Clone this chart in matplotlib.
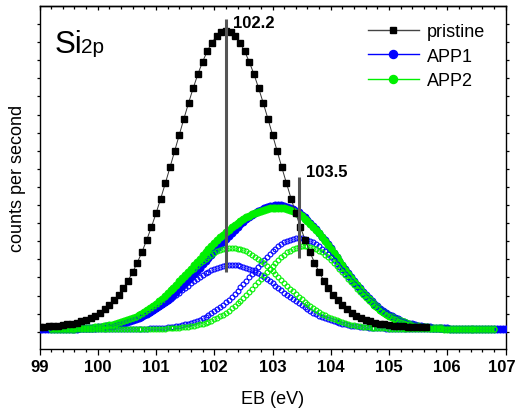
import numpy as np
import matplotlib
matplotlib.use("Agg")
import matplotlib.pyplot as plt
import matplotlib.transforms as mtransforms
from matplotlib.ticker import MultipleLocator, FixedLocator
from matplotlib.lines import Line2D

plt.rcParams['font.family'] = ['Liberation Sans', 'DejaVu Sans']

# ---------------- data ----------------
# energy grids (eV)
x_pristine = np.linspace(99.0, 105.64, 84)
x_app1 = np.linspace(99.0, 107.0, 161)
x_app2 = np.linspace(99.2, 106.8, 153)

pristine = [
    2.2, 2.4, 2.7, 3.0, 3.4, 3.9, 4.6, 5.4, 6.4, 7.7,
    9.3, 11.2, 13.5, 16.4, 19.8, 23.9, 28.7, 34.4, 40.9, 48.4,
    57.0, 66.5, 77.2, 89.0, 101.8, 115.6, 130.3, 145.7, 161.6, 177.9,
    194.3, 210.5, 226.2, 241.2, 255.0, 267.3, 277.9, 286.5, 292.8, 296.7,
    298.0,
    296.7, 292.8, 286.5, 277.9, 267.3, 255.0, 241.2, 226.2, 210.5, 194.3,
    177.9, 161.6, 145.7, 130.3, 115.6, 101.8, 89.0, 77.2, 66.5, 57.0,
    48.4, 40.9, 34.4, 28.7, 23.9, 19.8, 16.4, 13.5, 11.2, 9.3,
    7.7, 6.4, 5.4, 4.6, 3.9, 3.4, 3.0, 2.7, 2.4, 2.2,
    2.0, 1.9, 1.7]

app1_sum = [
    0.0, 0.0, 0.0, 0.0, 0.1, 0.1, 0.1, 0.2, 0.2, 0.2,
    0.3, 0.3, 0.4, 0.5, 0.6, 0.7, 0.8, 1.0, 1.2, 1.4,
    1.6, 1.9, 2.2, 2.6, 3.0, 3.5, 4.0, 4.7, 5.4, 6.1,
    6.9, 7.8, 8.9, 9.9, 11.2, 12.4, 13.9, 15.4, 17.1, 18.8,
    20.7, 22.7, 24.8, 27.1, 29.4, 31.9, 34.5, 37.2, 39.9, 42.8,
    45.8, 48.8, 51.9, 55.0, 58.2, 61.4, 64.7, 67.9, 71.2, 74.5,
    77.7, 81.0, 84.2, 87.3, 90.5, 93.4, 96.4, 99.3, 102.1, 104.7,
    107.3, 109.6, 111.9, 114.0, 115.9, 117.7, 119.2, 120.6, 121.8, 122.7,
    123.3, 123.7, 123.8, 123.6, 123.2, 122.5, 121.4, 120.1, 118.5, 116.6,
    114.4, 112.0, 109.3, 106.3, 103.2, 99.7, 96.2, 92.4, 88.6, 84.6,
    80.6, 76.4, 72.2, 68.1, 63.9, 59.8, 55.8, 51.8, 48.0, 44.3,
    40.7, 37.3, 34.0, 30.9, 28.1, 25.3, 22.7, 20.4, 18.2, 16.2,
    14.3, 12.6, 11.2, 9.7, 8.5, 7.4, 6.4, 5.5, 4.8, 4.1,
    3.5, 2.9, 2.5, 2.1, 1.7, 1.5, 1.2, 1.0, 0.8, 0.7,
    0.6, 0.5, 0.4, 0.3, 0.3, 0.2, 0.2, 0.1, 0.1, 0.1,
    0.1, 0.1, 0.0, 0.0, 0.0, 0.0, 0.0, 0.0, 0.0, 0.0,
    0.0]

app1_c1 = [
    0.0, 0.0, 0.0, 0.0, 0.1, 0.1, 0.1, 0.2, 0.2, 0.2,
    0.3, 0.3, 0.4, 0.5, 0.6, 0.7, 0.8, 1.0, 1.2, 1.4,
    1.6, 1.9, 2.2, 2.6, 3.0, 3.5, 4.0, 4.6, 5.3, 6.0,
    6.8, 7.7, 8.7, 9.7, 10.9, 12.1, 13.5, 14.9, 16.5, 18.1,
    19.9, 21.7, 23.6, 25.6, 27.7, 29.8, 32.0, 34.3, 36.5, 38.8,
    41.1, 43.4, 45.6, 47.8, 49.9, 51.9, 53.8, 55.6, 57.3, 58.8,
    60.1, 61.3, 62.3, 63.0, 63.6, 63.9, 64.0, 63.9, 63.6, 63.0,
    62.3, 61.3, 60.1, 58.8, 57.3, 55.6, 53.8, 51.9, 49.9, 47.8,
    45.6, 43.4, 41.1, 38.8, 36.5, 34.3, 32.0, 29.8, 27.7, 25.6,
    23.6, 21.7, 19.9, 18.1, 16.5, 14.9, 13.5, 12.1, 10.9, 9.7,
    8.7, 7.7, 6.8, 6.0, 5.3, 4.6, 4.0, 3.5, 3.0, 2.6,
    2.2, 1.9, 1.6, 1.4, 1.2, 1.0, 0.8, 0.7, 0.6, 0.5,
    0.4, 0.3, 0.3, 0.2, 0.2, 0.2, 0.1, 0.1, 0.1, 0.1,
    0.1, 0.0, 0.0, 0.0, 0.0, 0.0, 0.0, 0.0, 0.0, 0.0,
    0.0, 0.0, 0.0, 0.0, 0.0, 0.0, 0.0, 0.0, 0.0, 0.0,
    0.0, 0.0, 0.0, 0.0, 0.0, 0.0, 0.0, 0.0, 0.0, 0.0,
    0.0]

app1_c2 = [
    0.0, 0.0, 0.0, 0.0, 0.0, 0.0, 0.0, 0.0, 0.0, 0.0,
    0.0, 0.0, 0.0, 0.0, 0.0, 0.0, 0.0, 0.0, 0.0, 0.0,
    0.0, 0.0, 0.0, 0.0, 0.0, 0.0, 0.0, 0.1, 0.1, 0.1,
    0.1, 0.1, 0.2, 0.2, 0.3, 0.3, 0.4, 0.5, 0.6, 0.7,
    0.8, 1.0, 1.2, 1.5, 1.7, 2.1, 2.5, 2.9, 3.4, 4.0,
    4.7, 5.4, 6.3, 7.2, 8.3, 9.5, 10.9, 12.3, 13.9, 15.7,
    17.6, 19.7, 21.9, 24.3, 26.9, 29.5, 32.4, 35.4, 38.5, 41.7,
    45.0, 48.3, 51.8, 55.2, 58.6, 62.1, 65.4, 68.7, 71.9, 74.9,
    77.7, 80.3, 82.7, 84.8, 86.7, 88.2, 89.4, 90.3, 90.8, 91.0,
    90.8, 90.3, 89.4, 88.2, 86.7, 84.8, 82.7, 80.3, 77.7, 74.9,
    71.9, 68.7, 65.4, 62.1, 58.6, 55.2, 51.8, 48.3, 45.0, 41.7,
    38.5, 35.4, 32.4, 29.5, 26.9, 24.3, 21.9, 19.7, 17.6, 15.7,
    13.9, 12.3, 10.9, 9.5, 8.3, 7.2, 6.3, 5.4, 4.7, 4.0,
    3.4, 2.9, 2.5, 2.1, 1.7, 1.5, 1.2, 1.0, 0.8, 0.7,
    0.6, 0.5, 0.4, 0.3, 0.3, 0.2, 0.2, 0.1, 0.1, 0.1,
    0.1, 0.1, 0.0, 0.0, 0.0, 0.0, 0.0, 0.0, 0.0, 0.0,
    0.0]

app2_sum = [
    0.1, 0.1, 0.2, 0.2, 0.2, 0.3, 0.4, 0.4, 0.5, 0.6,
    0.8, 0.9, 1.1, 1.3, 1.5, 1.8, 2.1, 2.4, 2.8, 3.3,
    3.8, 4.4, 5.1, 5.8, 6.7, 7.6, 8.6, 9.7, 11.0, 12.3,
    13.9, 15.5, 17.2, 19.0, 21.1, 23.1, 25.5, 27.8, 30.3, 32.9,
    35.7, 38.6, 41.4, 44.5, 47.6, 50.7, 54.0, 57.3, 60.5, 63.9,
    67.1, 70.4, 73.6, 76.8, 79.9, 82.9, 85.9, 88.8, 91.6, 94.3,
    96.8, 99.4, 101.7, 104.0, 106.0, 108.1, 110.0, 111.7, 113.3, 114.8,
    116.2, 117.4, 118.4, 119.4, 120.1, 120.8, 121.1, 121.4, 121.3, 121.1,
    120.6, 120.0, 119.0, 117.9, 116.5, 114.7, 112.7, 110.5, 108.0, 105.2,
    102.3, 99.0, 95.6, 92.0, 88.2, 84.3, 80.3, 76.2, 72.0, 67.9,
    63.7, 59.5, 55.4, 51.4, 47.5, 43.7, 40.0, 36.5, 33.3, 30.1,
    27.1, 24.4, 21.8, 19.4, 17.2, 15.1, 13.3, 11.6, 10.2, 8.8,
    7.6, 6.6, 5.7, 4.8, 4.1, 3.5, 2.9, 2.5, 2.0, 1.6,
    1.4, 1.1, 0.9, 0.8, 0.6, 0.5, 0.4, 0.3, 0.3, 0.2,
    0.2, 0.1, 0.1, 0.1, 0.1, 0.0, 0.0, 0.0, 0.0, 0.0,
    0.0, 0.0, 0.0]

app2_c1 = [
    0.1, 0.1, 0.2, 0.2, 0.2, 0.3, 0.4, 0.4, 0.5, 0.6,
    0.8, 0.9, 1.1, 1.3, 1.5, 1.8, 2.1, 2.4, 2.8, 3.3,
    3.8, 4.4, 5.1, 5.8, 6.7, 7.6, 8.6, 9.7, 11.0, 12.3,
    13.8, 15.4, 17.1, 18.9, 20.9, 22.9, 25.2, 27.5, 29.9, 32.4,
    35.1, 37.8, 40.5, 43.4, 46.2, 49.1, 52.0, 54.9, 57.7, 60.5,
    63.1, 65.7, 68.1, 70.4, 72.5, 74.4, 76.1, 77.6, 78.8, 79.8,
    80.4, 80.9, 81.0, 80.9, 80.4, 79.8, 78.8, 77.6, 76.1, 74.4,
    72.5, 70.4, 68.1, 65.7, 63.1, 60.5, 57.7, 54.9, 52.0, 49.1,
    46.2, 43.4, 40.5, 37.8, 35.1, 32.4, 29.9, 27.5, 25.2, 22.9,
    20.9, 18.9, 17.1, 15.4, 13.8, 12.3, 11.0, 9.7, 8.6, 7.6,
    6.7, 5.8, 5.1, 4.4, 3.8, 3.3, 2.8, 2.4, 2.1, 1.8,
    1.5, 1.3, 1.1, 0.9, 0.8, 0.6, 0.5, 0.4, 0.4, 0.3,
    0.2, 0.2, 0.2, 0.1, 0.1, 0.1, 0.1, 0.1, 0.0, 0.0,
    0.0, 0.0, 0.0, 0.0, 0.0, 0.0, 0.0, 0.0, 0.0, 0.0,
    0.0, 0.0, 0.0, 0.0, 0.0, 0.0, 0.0, 0.0, 0.0, 0.0,
    0.0, 0.0, 0.0]

app2_c2 = [
    0.0, 0.0, 0.0, 0.0, 0.0, 0.0, 0.0, 0.0, 0.0, 0.0,
    0.0, 0.0, 0.0, 0.0, 0.0, 0.0, 0.0, 0.0, 0.0, 0.0,
    0.0, 0.0, 0.0, 0.0, 0.0, 0.0, 0.0, 0.0, 0.0, 0.0,
    0.1, 0.1, 0.1, 0.1, 0.2, 0.2, 0.3, 0.3, 0.4, 0.5,
    0.6, 0.8, 0.9, 1.1, 1.4, 1.6, 2.0, 2.4, 2.8, 3.4,
    4.0, 4.7, 5.5, 6.4, 7.4, 8.5, 9.8, 11.2, 12.8, 14.5,
    16.4, 18.5, 20.7, 23.1, 25.6, 28.3, 31.2, 34.1, 37.2, 40.4,
    43.7, 47.0, 50.3, 53.7, 57.0, 60.3, 63.4, 66.5, 69.3, 72.0,
    74.4, 76.6, 78.5, 80.1, 81.4, 82.3, 82.8, 83.0, 82.8, 82.3,
    81.4, 80.1, 78.5, 76.6, 74.4, 72.0, 69.3, 66.5, 63.4, 60.3,
    57.0, 53.7, 50.3, 47.0, 43.7, 40.4, 37.2, 34.1, 31.2, 28.3,
    25.6, 23.1, 20.7, 18.5, 16.4, 14.5, 12.8, 11.2, 9.8, 8.5,
    7.4, 6.4, 5.5, 4.7, 4.0, 3.4, 2.8, 2.4, 2.0, 1.6,
    1.4, 1.1, 0.9, 0.8, 0.6, 0.5, 0.4, 0.3, 0.3, 0.2,
    0.2, 0.1, 0.1, 0.1, 0.1, 0.0, 0.0, 0.0, 0.0, 0.0,
    0.0, 0.0, 0.0]

peak_x = [102.2, 103.45]
peak_y_low = [57, 71]
peak_y_high = [310, 152]
peak_labels = ['102.2', '103.5']
peak_label_y = [306, 157]

series_labels = ['pristine', 'APP1', 'APP2']
xtick_values = [99, 100, 101, 102, 103, 104, 105, 106, 107]

# ---------------- figure ----------------
W, H = 516, 410
fig = plt.figure(figsize=(W / 100, H / 100), dpi=100)
L, R, T, B = 39.5, 505.5, 6.7, 350.0
ax = fig.add_axes([L / W, (H - B) / H, (R - L) / W, (B - T) / H])

BLUE = '#0000ff'
GREEN = '#00f000'

ax.plot(x_app1, app1_sum, ls='-', lw=0.8, color=BLUE, marker='o', ms=5.2,
        mfc=BLUE, mec=BLUE, mew=0.5, zorder=3)
ax.plot(x_app2, app2_sum, ls='-', lw=0.8, color=GREEN, marker='o', ms=5.2,
        mfc=GREEN, mec=GREEN, mew=0.5, zorder=4)
for yy, cc in [(app1_c1, BLUE), (app1_c2, BLUE)]:
    ax.plot(x_app1, yy, ls='none', marker='o', ms=3.5, mfc='none', mec=cc,
            mew=0.8, zorder=5)
for yy, cc in [(app2_c1, GREEN), (app2_c2, GREEN)]:
    ax.plot(x_app2, yy, ls='none', marker='o', ms=3.5, mfc='none', mec=cc,
            mew=0.8, zorder=6)
ax.plot(x_pristine, pristine, ls='-', lw=0.7, color='#333333', marker='s',
        ms=3.8, mfc='k', mec='k', zorder=7)

for xv, y0, y1, lab, ly in zip(peak_x, peak_y_low, peak_y_high, peak_labels, peak_label_y):
    ax.plot([xv, xv], [y0, y1], color='#555555', lw=2.2, solid_capstyle='butt', zorder=8)
    ax.text(xv + 0.13, ly, lab, fontsize=12, fontweight='bold', ha='left',
            va='center', zorder=9)

ax.set_xlim(99, 107)
ax.set_ylim(-20, 323.3)

ax.set_xticks(xtick_values)
ax.set_xticklabels([str(v) for v in xtick_values], fontweight='bold', fontsize=12)
ax.xaxis.set_minor_locator(MultipleLocator(0.2))
ax.tick_params(axis='x', which='major', direction='out', length=4.3, width=0.9, pad=2.9)
ax.tick_params(axis='x', which='minor', direction='out', length=2.2, width=0.9)

yt = 305 - 18.1 * np.arange(0, 18)
ax.yaxis.set_major_locator(FixedLocator(yt))
ax.tick_params(axis='y', which='major', direction='out', length=2.0, width=0.9,
               left=True, right=True, labelleft=False, labelright=False)

top = ax.secondary_xaxis('top')
top.set_xticks(xtick_values)
top.xaxis.set_minor_locator(MultipleLocator(0.2))
top.tick_params(axis='x', which='major', direction='in', length=3.0, width=0.9, labeltop=False)
top.tick_params(axis='x', which='minor', direction='in', length=2.0, width=0.9)
top.spines['top'].set_linewidth(1.0)

for s in ax.spines.values():
    s.set_linewidth(1.0)

ax.set_xlabel('EB (eV)', fontsize=13)
ax.xaxis.set_label_coords(0.5, -0.119)
ax.set_ylabel('counts per second', fontsize=13)
ax.yaxis.set_label_coords(-0.029, 0.5)

ax.text((55 - L) / (R - L), (B - 53.5) / (B - T), 'Si', transform=ax.transAxes,
        fontsize=22.5, ha='left', va='baseline')
ax.text((81 - L) / (R - L), (B - 53.5) / (B - T), '2p', transform=ax.transAxes,
        fontsize=15, ha='left', va='baseline')

handles = [
    Line2D([], [], color='#444444', lw=1.0, marker='s', ms=4.8, mfc='k', mec='k'),
    Line2D([], [], color=BLUE, lw=1.0, marker='o', ms=5.8, mfc=BLUE, mec=BLUE),
    Line2D([], [], color=GREEN, lw=1.0, marker='o', ms=5.8, mfc=GREEN, mec=GREEN),
]
ax.legend(handles, series_labels, loc='upper left',
          bbox_to_anchor=((368 - L) / (R - L), (B - 24.5) / (B - T)),
          frameon=False, fontsize=13, handlelength=2.8, handletextpad=0.45,
          labelspacing=0.4, borderpad=0, borderaxespad=0)

# keep the last tick label ("107") inside the canvas
fig.canvas.draw()
last_label = ax.xaxis.get_majorticklabels()[-1]
last_label.set_transform(last_label.get_transform() +
                         mtransforms.ScaledTranslation(-3.5 / 100, 0, fig.dpi_scale_trans))

fig.savefig('out.png', dpi=100)
